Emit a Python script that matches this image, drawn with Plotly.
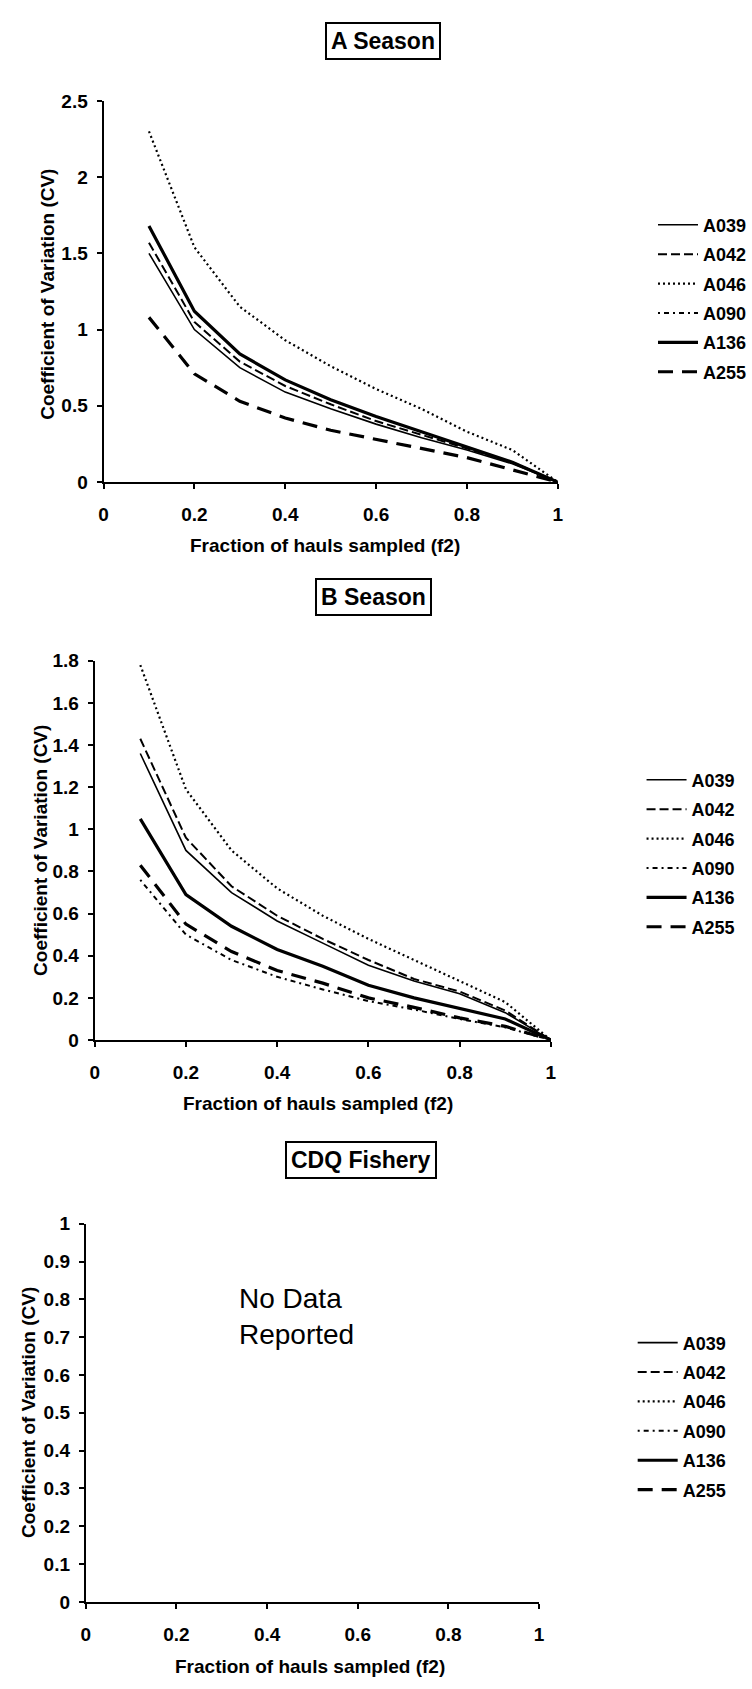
import plotly.graph_objects as go

# ---------------- data ----------------
f2 = [0.1, 0.2, 0.3, 0.4, 0.5, 0.6, 0.7, 0.8, 0.9, 1.0]
series_names = ["A039", "A042", "A046", "A090", "A136", "A255"]

# A Season (A090 not drawn in this panel)
a_A039 = [1.50, 1.00, 0.75, 0.59, 0.48, 0.38, 0.29, 0.21, 0.12, 0.0]
a_A042 = [1.57, 1.05, 0.79, 0.63, 0.51, 0.40, 0.31, 0.22, 0.13, 0.0]
a_A046 = [2.30, 1.54, 1.15, 0.93, 0.76, 0.61, 0.48, 0.33, 0.21, 0.0]
a_A090 = [None] * 10
a_A136 = [1.68, 1.12, 0.84, 0.67, 0.54, 0.43, 0.33, 0.23, 0.13, 0.0]
a_A255 = [1.08, 0.71, 0.53, 0.42, 0.34, 0.28, 0.22, 0.16, 0.08, 0.0]

# B Season
b_A039 = [1.36, 0.90, 0.70, 0.565, 0.46, 0.355, 0.28, 0.22, 0.13, 0.0]
b_A042 = [1.43, 0.96, 0.73, 0.59, 0.48, 0.38, 0.29, 0.23, 0.14, 0.0]
b_A046 = [1.78, 1.19, 0.90, 0.72, 0.59, 0.48, 0.38, 0.28, 0.18, 0.0]
b_A090 = [0.76, 0.50, 0.38, 0.30, 0.24, 0.185, 0.145, 0.10, 0.06, 0.0]
b_A136 = [1.05, 0.69, 0.54, 0.43, 0.35, 0.26, 0.20, 0.15, 0.10, 0.0]
b_A255 = [0.83, 0.55, 0.42, 0.33, 0.27, 0.20, 0.155, 0.105, 0.065, 0.0]

# CDQ Fishery: no data reported
c_empty = [None] * 10

panel_titles = ["A Season", "B Season", "CDQ Fishery"]
x_title = "Fraction of hauls sampled (f2)"
y_title = "Coefficient of Variation (CV)"
x_ticks = [0, 0.2, 0.4, 0.6, 0.8, 1]

# ---------------- styling ----------------
W, H = 752, 1689
styles = {
    "A039": dict(width=1.6, dash="solid"),
    "A042": dict(width=2.0, dash="9px,4px"),
    "A046": dict(width=2.2, dash="2px,3px"),
    "A090": dict(width=2.0, dash="2px,4px,5px,4px"),
    "A136": dict(width=3.2, dash="solid"),
    "A255": dict(width=3.2, dash="15px,9px"),
}
FONT = "Arial, Liberation Sans, sans-serif"


def xd(l, r):
    return [l / W, r / W]


def yd(top, bottom):
    return [1 - bottom / H, 1 - top / H]


fig = go.Figure()

panels = [
    dict(data=[a_A039, a_A042, a_A046, a_A090, a_A136, a_A255], xa="x", ya="y", lg="legend"),
    dict(data=[b_A039, b_A042, b_A046, b_A090, b_A136, b_A255], xa="x2", ya="y2", lg="legend2"),
    dict(data=[c_empty] * 6, xa="x3", ya="y3", lg="legend3"),
]

for pi, p in enumerate(panels):
    for name, vals in zip(series_names, p["data"]):
        fig.add_trace(go.Scatter(
            x=f2, y=vals, name=name, mode="lines",
            line=dict(color="black", **styles[name]),
            xaxis=p["xa"], yaxis=p["ya"], legend=p["lg"],
            legendgroup=f"p{pi}_{name}", showlegend=True,
        ))

axis_common = dict(
    showline=True, linecolor="black", linewidth=2,
    ticks="outside", ticklen=5, tickwidth=2, tickcolor="black",
    showgrid=False, zeroline=False,
    tickfont=dict(family=FONT, size=19, color="black", weight="bold"),
)

# pixel geometry for the three panels: (x_left, x_right, y_top, y_bottom)
geo = [(100, 561, 92, 478), (91, 554, 659, 1043), (82, 542, 1229, 1612)]
yranges = [[0, 2.5], [0, 1.8], [0, 1.0]]
ydticks = [0.5, 0.2, 0.1]

layout = dict(
    width=W, height=H, margin=dict(l=0, r=0, t=0, b=0),
    paper_bgcolor="white", plot_bgcolor="white",
    showlegend=True,
)
for i, ((xl, xr, yt, yb), yr, dt) in enumerate(zip(geo, yranges, ydticks)):
    sfx = "" if i == 0 else str(i + 1)
    layout["xaxis" + sfx] = dict(
        domain=xd(xl, xr), range=[0, 1], anchor="y" + sfx,
        tickvals=x_ticks, ticklabelstandoff=9, **axis_common)
    layout["yaxis" + sfx] = dict(
        domain=yd(yt, yb), range=yr, anchor="x" + sfx,
        dtick=dt, tick0=0, ticklabelstandoff=5, **axis_common)

legend_common = dict(
    font=dict(family=FONT, size=18, color="black", weight="bold"),
    bgcolor="rgba(0,0,0,0)", borderwidth=0, tracegroupgap=3,
    traceorder="grouped", xanchor="left", yanchor="top", itemwidth=40,
)
layout["legend"] = dict(x=658 / W, y=1 - 199 / H, **legend_common)
layout["legend2"] = dict(x=646 / W, y=1 - 761 / H, **legend_common)
layout["legend3"] = dict(x=637 / W, y=1 - 1331 / H, **legend_common)

fig.update_layout(**layout)

annotations = []
title_pos = [(384, 31), (374, 594), (361, 1164)]
for t, (px, py) in zip(panel_titles, title_pos):
    annotations.append(dict(
        text=t, x=px / W, y=1 - py / H, xref="paper", yref="paper",
        xanchor="center", yanchor="middle", showarrow=False,
        font=dict(family=FONT, size=23, color="black", weight="bold"),
        bordercolor="black", borderwidth=2, borderpad=4, bgcolor="white",
    ))

ytitle_pos = [(43, 288), (36, 851), (24, 1420)]
for px, py in ytitle_pos:
    annotations.append(dict(
        text=y_title, x=px / W, y=1 - py / H, xref="paper", yref="paper",
        xanchor="center", yanchor="middle", showarrow=False, textangle=-90,
        font=dict(family=FONT, size=19, color="black", weight="bold"),
    ))

xtitle_pos = [(325, 542), (318, 1107), (310, 1677)]
for px, py in xtitle_pos:
    annotations.append(dict(
        text=x_title, x=px / W, y=1 - py / H, xref="paper", yref="paper",
        xanchor="center", yanchor="middle", showarrow=False,
        font=dict(family=FONT, size=19, color="black", weight="bold"),
    ))

annotations.append(dict(
    text="No Data<br>Reported", x=235 / W, y=1 - 1323 / H, xref="paper", yref="paper",
    xanchor="left", yanchor="middle", align="left", showarrow=False,
    font=dict(family=FONT, size=28, color="black"),
))

fig.update_layout(annotations=annotations)
fig.write_html("out.html")
